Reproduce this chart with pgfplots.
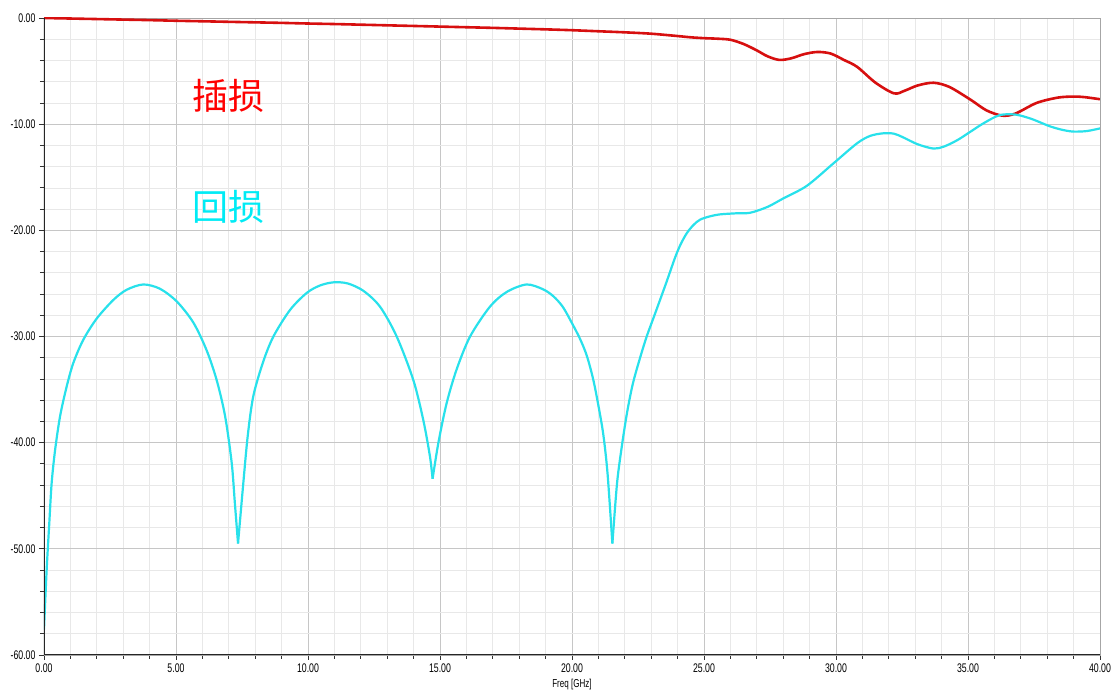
\documentclass[border=0pt]{standalone}
\usepackage{fontspec}
\setmainfont{Liberation Sans}
\newfontfamily\narrowfont{Liberation Sans}[FakeStretch=0.7]
\newfontfamily\cjk{Noto Sans CJK SC}
\usepackage{pgfplots}
\pgfplotsset{compat=1.18}
\definecolor{ilred}{RGB}{215,15,15}
\definecolor{rlcyan}{RGB}{40,225,235}
\definecolor{txtcyan}{RGB}{0,235,245}
\begin{document}
\begin{tikzpicture}
\useasboundingbox (-44pt,-35pt) rectangle (1067pt,655pt);
\begin{axis}[at={(0pt,0pt)}, anchor=south west, scale only axis,
  width=1056pt, height=637pt,
  xmin=0, xmax=40, ymin=-60, ymax=0,
  xtick={0,5,...,40}, ytick={-60,-50,...,0},
  minor x tick num=4, minor y tick num=4,
  grid=both,
  major grid style={gray!45, line width=0.8pt},
  minor grid style={gray!18, line width=0.6pt},
  axis line style={gray!70, line width=0.9pt},
  tick align=outside, xtick pos=left, ytick pos=left,
  major tick length=5pt, minor tick length=4pt,
  tick style={black!80, line width=0.8pt},
  xticklabel style={font=\narrowfont\fontsize{12.5}{13}\selectfont,
    /pgf/number format/.cd, fixed, fixed zerofill, precision=2, assume math mode=true},
  yticklabel style={font=\narrowfont\fontsize{12.5}{13}\selectfont,
    /pgf/number format/.cd, fixed, fixed zerofill, precision=2, assume math mode=true},
  xlabel={Freq [GHz]},
  xlabel style={font=\narrowfont\fontsize{11.5}{12}\selectfont},
  clip=true,
]
\addplot[ilred, line width=2.6pt, smooth] coordinates {
(0,0) (1,-0.05) (2,-0.1) (3,-0.15) (4,-0.2) (5,-0.26) (6,-0.31) (7,-0.36)
(8,-0.41) (9,-0.46) (10,-0.52) (11,-0.57) (12,-0.63) (13,-0.69) (14,-0.75)
(15,-0.81) (16,-0.87) (17,-0.93) (18,-1.0) (19,-1.07) (20,-1.15) (21,-1.25)
(22,-1.35) (23,-1.48) (24,-1.7) (24.5,-1.82) (25,-1.9) (25.5,-1.95) (26,-2.05)
(26.5,-2.45) (27,-3.05) (27.4,-3.6) (27.85,-3.95) (28.3,-3.8) (28.8,-3.4)
(29.3,-3.2) (29.8,-3.35) (30.3,-3.95) (30.8,-4.6) (31.5,-6.1) (32.2,-7.1)
(32.6,-6.85) (33.1,-6.35) (33.7,-6.1) (34.3,-6.5) (35.1,-7.7) (35.7,-8.7)
(36.3,-9.2) (36.8,-9.0) (37.6,-8.0) (38.4,-7.5) (39.0,-7.4) (39.4,-7.45) (40,-7.65)
};
\addplot[rlcyan, line width=2.2pt, smooth] coordinates {
(0.0,-57.6) (0.1,-52.0) (0.2,-47.6) (0.29,-43.8) (0.42,-40.7) (0.61,-37.5)
(0.86,-34.7) (1.11,-32.5) (1.49,-30.3) (2.0,-28.3) (2.63,-26.55) (3.13,-25.6)
(3.76,-25.1) (4.39,-25.5) (5.03,-26.7) (5.66,-28.7) (6.16,-31.3) (6.54,-34.1)
(6.86,-37.5) (7.11,-41.9) (7.23,-45.7) (7.35,-49.5)
};
\addplot[rlcyan, line width=2.2pt, smooth] coordinates {
(7.35,-49.5) (7.55,-43.8) (7.72,-39.3) (7.93,-35.6) (8.3,-32.4) (8.69,-30.0)
(9.32,-27.5) (9.95,-25.9) (10.45,-25.2) (10.96,-24.9) (11.5,-25.0) (12.1,-25.7)
(12.73,-27.2) (13.36,-30.0) (13.99,-34.1) (14.37,-37.9) (14.62,-41.3) (14.72,-43.4)
};
\addplot[rlcyan, line width=2.2pt, smooth] coordinates {
(14.72,-43.4) (14.94,-40.0) (15.25,-36.3) (15.63,-33.1) (16.14,-30.0)
(16.89,-27.2) (17.53,-25.8) (18.28,-25.1) (18.9,-25.55) (19.29,-26.2)
(19.65,-27.2) (19.99,-28.7) (20.3,-30.2) (20.56,-31.8) (20.8,-34.0)
(21.0,-36.5) (21.19,-39.3) (21.35,-43) (21.53,-49.5)
};
\addplot[rlcyan, line width=2.2pt, smooth] coordinates {
(21.53,-49.5) (21.7,-44) (21.85,-41.0) (22.07,-37.4) (22.3,-34.5) (22.58,-32.0)
(22.83,-30.0) (23.08,-28.3) (23.3,-26.8) (23.59,-24.8) (23.9,-22.6) (24.1,-21.4)
(24.34,-20.3) (24.6,-19.5) (24.85,-19.0) (25.2,-18.7) (25.6,-18.5) (26.2,-18.4)
(26.74,-18.35) (27.4,-17.8) (28.0,-17.0) (28.9,-15.8) (29.9,-13.7) (30.8,-11.8)
(31.3,-11.1) (31.8,-10.86) (32.2,-10.9) (32.55,-11.25) (33.1,-11.9) (33.7,-12.3)
(34.1,-12.1) (34.6,-11.5) (35.1,-10.7) (35.6,-9.9) (36.2,-9.15) (36.8,-9.1)
(37.4,-9.5) (38.1,-10.2) (38.6,-10.55) (39.0,-10.7) (39.5,-10.65) (40,-10.4)
};
\node[font=\cjk\fontsize{36}{36}\selectfont, text=red] at (axis cs:6.97,-7.34) {插损};
\node[font=\cjk\fontsize{36}{36}\selectfont, text=txtcyan] at (axis cs:7.0,-17.8) {回损};
\draw[black!85, line width=1.2pt] (rel axis cs:0,1) -- (rel axis cs:0,0) -- (rel axis cs:1,0);
\end{axis}
\end{tikzpicture}
\end{document}
